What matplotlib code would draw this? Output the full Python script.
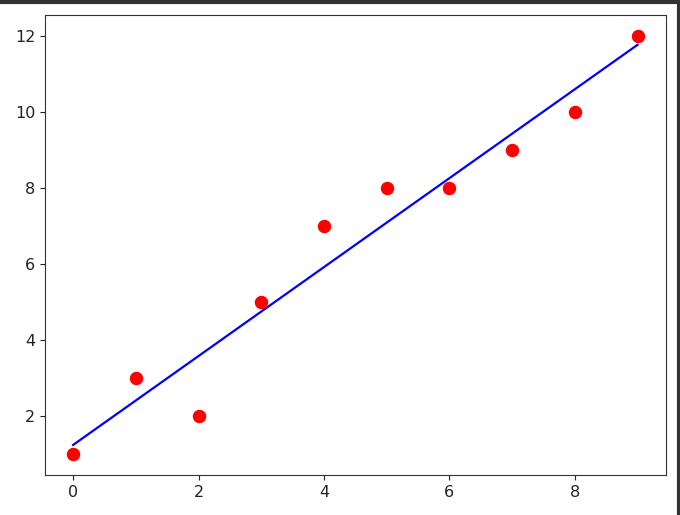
import matplotlib
matplotlib.use('Agg')
import matplotlib.pyplot as plt
import numpy as np
from matplotlib.lines import Line2D

x = [0, 1, 2, 3, 4, 5, 6, 7, 8, 9]
y = [1, 3, 2, 5, 7, 8, 8, 9, 10, 12]

# least-squares line through the points
slope, intercept = np.polyfit(x, y, 1)
fit = [slope * xi + intercept for xi in x]

fig = plt.figure(figsize=(6.8, 5.15), dpi=100)
ax = fig.add_axes([0.066, 0.078, 0.913, 0.893])
ax.scatter(x, y, color='red', s=75, zorder=3)
ax.plot(x, fit, color='blue', lw=1.6)
ax.tick_params(labelsize=11.5, colors='#222222')
for sp in ax.spines.values():
    sp.set_color('#333333')

# dark frame from the notebook screenshot
fig.add_artist(Line2D([0, 1], [0.997, 0.997], color='#333333', lw=3, transform=fig.transFigure))
fig.add_artist(Line2D([0.998, 0.998], [0, 1], color='#333333', lw=3, transform=fig.transFigure))

fig.savefig('out.png', dpi=100)
